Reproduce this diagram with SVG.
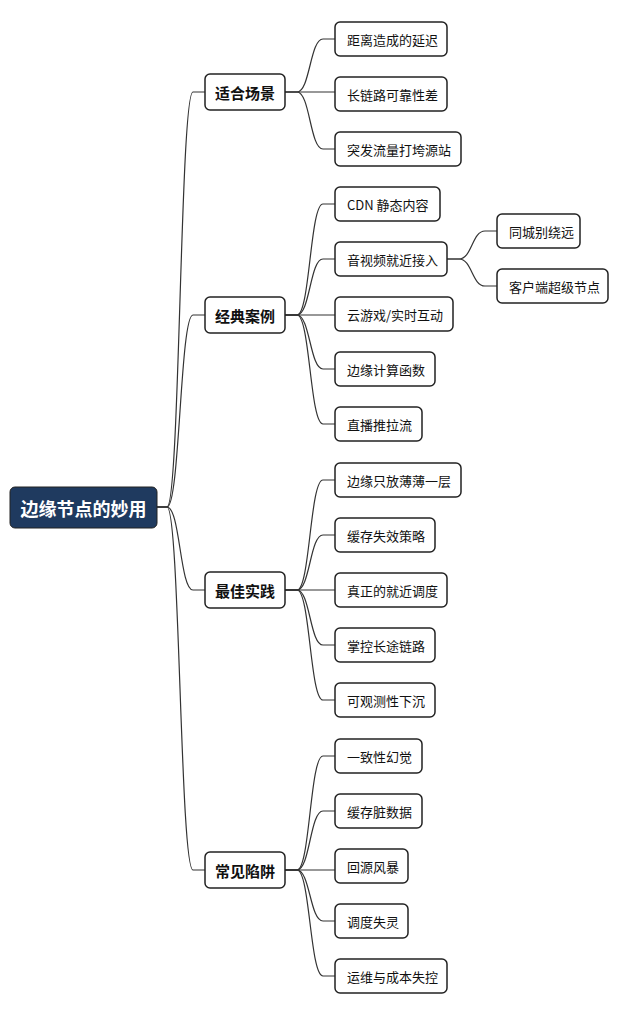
<svg xmlns="http://www.w3.org/2000/svg" width="628" height="1015" viewBox="0 0 628 1015">
<style>
text{font-family:"Noto Sans CJK SC","Noto Sans",sans-serif;dominant-baseline:central}
.b{fill:#fff;stroke:#222;stroke-width:1.5}
.l{font-size:13px;fill:#111}
.m{font-size:15px;font-weight:bold;fill:#111}
.c path{fill:none;stroke:#333;stroke-width:1.2}
</style>
<rect width="628" height="1015" fill="#fff"/>
<g class="c">
<path d="M157,507 L167,507 C180,507 180,92 193,92 L205,92"/>
<path d="M157,507 L167,507 C180,507 180,315 193,315 L205,315"/>
<path d="M157,507 L167,507 C180,507 180,590 193,590 L205,590"/>
<path d="M157,507 L167,507 C180,507 180,870 193,870 L205,870"/>
<path d="M285,92 L297,92 C310,92 310,39 323,39 L335,39"/>
<path d="M285,92 L335,92"/>
<path d="M285,92 L297,92 C310,92 310,149 323,149 L335,149"/>
<path d="M285,315 L297,315 C310,315 310,204 323,204 L335,204"/>
<path d="M285,315 L297,315 C310,315 310,259 323,259 L335,259"/>
<path d="M285,315 L335,315"/>
<path d="M285,315 L297,315 C310,315 310,369 323,369 L335,369"/>
<path d="M285,315 L297,315 C310,315 310,424 323,424 L335,424"/>
<path d="M285,590 L297,590 C310,590 310,480 323,480 L335,480"/>
<path d="M285,590 L297,590 C310,590 310,535 323,535 L335,535"/>
<path d="M285,590 L335,590"/>
<path d="M285,590 L297,590 C310,590 310,645 323,645 L335,645"/>
<path d="M285,590 L297,590 C310,590 310,700 323,700 L335,700"/>
<path d="M285,870 L297,870 C310,870 310,756 323,756 L335,756"/>
<path d="M285,870 L297,870 C310,870 310,811 323,811 L335,811"/>
<path d="M285,870 L335,870"/>
<path d="M285,870 L297,870 C310,870 310,921 323,921 L335,921"/>
<path d="M285,870 L297,870 C310,870 310,976 323,976 L335,976"/>
<path d="M447,259 L459,259 C472,259 472,231 485,231 L497,231"/>
<path d="M447,259 L459,259 C472,259 472,286 485,286 L497,286"/>
</g>
<g id="root"><rect x="10" y="487" width="147" height="41" rx="5" fill="#1f3a5f" stroke="#222" stroke-width="1"/><text x="83.5" y="508" text-anchor="middle" font-size="18" font-weight="bold" fill="#fff">边缘节点的妙用</text></g>
<g id="n1"><rect class="b" x="205" y="74" width="80" height="36" rx="5"/><text class="m" x="245" y="92" text-anchor="middle">适合场景</text></g>
<g id="n2"><rect class="b" x="205" y="297" width="80" height="36" rx="5"/><text class="m" x="245" y="315" text-anchor="middle">经典案例</text></g>
<g id="n3"><rect class="b" x="205" y="572" width="80" height="36" rx="5"/><text class="m" x="245" y="590" text-anchor="middle">最佳实践</text></g>
<g id="n4"><rect class="b" x="205" y="852" width="80" height="36" rx="5"/><text class="m" x="245" y="870" text-anchor="middle">常见陷阱</text></g>
<g id="a1"><rect class="b" x="335" y="22" width="112" height="34" rx="5"/><text class="l" x="347" y="39">距离造成的延迟</text></g>
<g id="a2"><rect class="b" x="335" y="77" width="112" height="34" rx="5"/><text class="l" x="347" y="94">长链路可靠性差</text></g>
<g id="a3"><rect class="b" x="335" y="132" width="126" height="34" rx="5"/><text class="l" x="347" y="149">突发流量打垮源站</text></g>
<g id="b1"><rect class="b" x="335" y="187" width="105" height="34" rx="5"/><text class="l" x="347" y="204">CDN 静态内容</text></g>
<g id="b2"><rect class="b" x="335" y="242" width="112" height="34" rx="5"/><text class="l" x="347" y="259">音视频就近接入</text></g>
<g id="b3"><rect class="b" x="335" y="297" width="118" height="34" rx="5"/><text class="l" x="347" y="314">云游戏/实时互动</text></g>
<g id="b4"><rect class="b" x="335" y="352" width="100" height="34" rx="5"/><text class="l" x="347" y="369">边缘计算函数</text></g>
<g id="b5"><rect class="b" x="335" y="407" width="87" height="34" rx="5"/><text class="l" x="347" y="424">直播推拉流</text></g>
<g id="b21"><rect class="b" x="497" y="214" width="83" height="34" rx="5"/><text class="l" x="509" y="231">同城别绕远</text></g>
<g id="b22"><rect class="b" x="497" y="269" width="111" height="34" rx="5"/><text class="l" x="509" y="286">客户端超级节点</text></g>
<g id="c1"><rect class="b" x="335" y="463" width="126" height="34" rx="5"/><text class="l" x="347" y="480">边缘只放薄薄一层</text></g>
<g id="c2"><rect class="b" x="335" y="518" width="100" height="34" rx="5"/><text class="l" x="347" y="535">缓存失效策略</text></g>
<g id="c3"><rect class="b" x="335" y="573" width="112" height="34" rx="5"/><text class="l" x="347" y="590">真正的就近调度</text></g>
<g id="c4"><rect class="b" x="335" y="628" width="100" height="34" rx="5"/><text class="l" x="347" y="645">掌控长途链路</text></g>
<g id="c5"><rect class="b" x="335" y="683" width="100" height="34" rx="5"/><text class="l" x="347" y="700">可观测性下沉</text></g>
<g id="d1"><rect class="b" x="335" y="739" width="87" height="34" rx="5"/><text class="l" x="347" y="756">一致性幻觉</text></g>
<g id="d2"><rect class="b" x="335" y="794" width="87" height="34" rx="5"/><text class="l" x="347" y="811">缓存脏数据</text></g>
<g id="d3"><rect class="b" x="335" y="849" width="73" height="34" rx="5"/><text class="l" x="347" y="866">回源风暴</text></g>
<g id="d4"><rect class="b" x="335" y="904" width="73" height="34" rx="5"/><text class="l" x="347" y="921">调度失灵</text></g>
<g id="d5"><rect class="b" x="335" y="959" width="112" height="34" rx="5"/><text class="l" x="347" y="976">运维与成本失控</text></g>
</svg>
